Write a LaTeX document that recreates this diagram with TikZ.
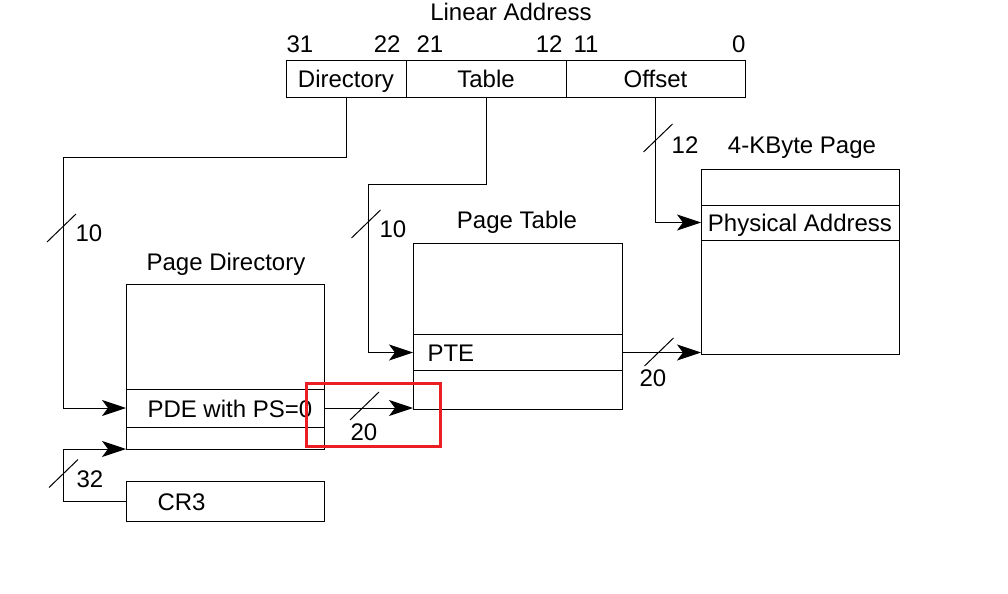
\documentclass[tikz,border=0pt]{standalone}
\usepackage{fontspec}
\setmainfont{Liberation Sans}
\usetikzlibrary{arrows.meta}
\definecolor{markred}{RGB}{235,30,35}
\begin{document}
\begin{tikzpicture}[x=0.5pt, y=-0.5pt, line width=0.5pt,
    lbl/.style={inner sep=0pt, font=\fontsize{12}{14}\selectfont},
    field/.style={draw, inner sep=0pt, outer sep=0pt, minimum height=18.5pt, text height=8.6pt, text depth=0pt, font=\fontsize{12}{14}\selectfont},
    memory/.style={draw, inner sep=0pt, outer sep=0pt, minimum width=99pt, text height=8.6pt, text depth=0pt, font=\fontsize{12}{14}\selectfont},
    arr/.style={-{Stealth[length=12pt, width=8pt, inset=3pt]}}]
    \useasboundingbox (0,0) rectangle (1008,594);
    %linear address
    \node[lbl] (title) at (511,12) {Linear Address};
    \node[field, minimum width=60pt] (dir) at (346,78.5) {Directory};
    \node[field, minimum width=80pt] (tab) at (486,78.5) {Table};
    \node[field, minimum width=89.5pt] (off) at (655.5,78.5) {Offset};
    \node[lbl, anchor=west] (b31) at (286,44) {31};
    \node[lbl, anchor=east] (b22) at (401,44) {22};
    \node[lbl, anchor=west] (b21) at (416,44) {21};
    \node[lbl, anchor=east] (b12) at (563,44) {12};
    \node[lbl, anchor=west] (b11) at (573,44) {11};
    \node[lbl, anchor=east] (b0) at (746,44) {0};
    %page directory
    \node[memory, minimum height=82.5pt] (pd) at (225,366.5) {};
    \node[memory, minimum height=19pt] (pde) at (225,408) {};
    \node[lbl, anchor=west] (pdetext) at (147,409) {PDE with PS=0};
    \node[lbl] (pdtitle) at (226,264) {Page Directory};
    \node[memory, minimum height=20pt] (cr3) at (225,501) {};
    \node[lbl, anchor=west] (cr3text) at (157,502) {CR3};
    %page table
    \node[memory, minimum width=104.5pt, minimum height=83pt] (pt) at (517.5,326) {};
    \node[memory, minimum width=104.5pt, minimum height=18pt] (pte) at (517.5,352.5) {};
    \node[lbl, anchor=west] (ptetext) at (427,353) {PTE};
    \node[lbl] (pttitle) at (517,222) {Page Table};
    %page
    \node[memory, minimum height=92.5pt] (pg) at (800,261.5) {};
    \node[memory, minimum height=17.5pt] (pa) at (800,222.5) {Physical Address};
    \node[lbl] (pgtitle) at (802,148) {4-KByte Page};
    %connectors
    \coordinate (c1) at (63,157);
    \coordinate (c2) at (368,184);
    \coordinate (c3) at (63,449);
    \draw[arr] (dir.south) |- (c1) |- (pde.west);
    \draw[arr] (tab.south) |- (c2) |- (pte.west);
    \draw[arr] (off.south) |- (pa.west);
    \draw[arr] (pde.east) -- (pde.east -| pt.west);
    \draw[arr] (pte.east) -- (pte.east -| pg.west);
    \draw[arr] (cr3.west) -| (c3) -- (pd.south west);
    %bus widths
    \foreach \x/\y in {61.5/228, 366/224, 658/138, 659/352, 364.5/406, 63.5/473.5}
        \draw (\x-14.5,\y+14) -- (\x+14.5,\y-14);
    \node[lbl] (w1) at (89,233) {10};
    \node[lbl] (w2) at (393,229) {10};
    \node[lbl] (w3) at (685,145) {12};
    \node[lbl] (w4) at (653,378) {20};
    \node[lbl] (w5) at (364,432) {20};
    \node[lbl] (w6) at (90,479) {32};
    %highlight
    \draw[markred, line width=1.5pt] (306,383) rectangle (440,446);
\end{tikzpicture}
\end{document}
